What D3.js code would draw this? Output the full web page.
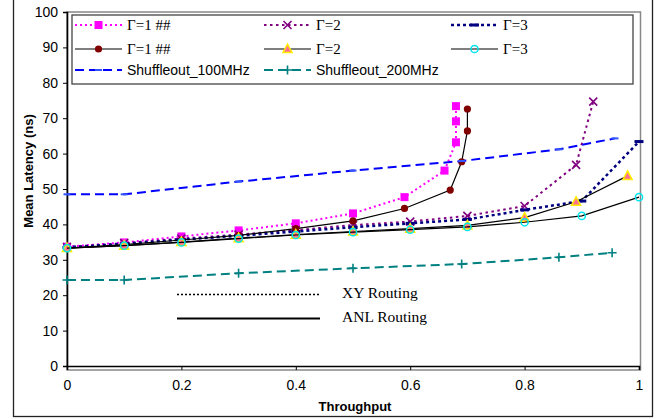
<!DOCTYPE html>
<meta charset="utf-8">
<style>
  body { margin: 0; background: #fff; }
  svg { display: block; }
</style>
<body>
<div id="chart"></div>
<script src="https://d3js.org/d3.v7.min.js"></script>
<script>

// data
var xyG1x  = [0, 0.1, 0.2, 0.3, 0.4, 0.5, 0.59, 0.66, 0.68, 0.68, 0.68];
var xyG1y  = [33.7, 34.9, 36.6, 38.3, 40.3, 43.1, 47.7, 55.2, 63.2, 69.1, 73.4];
var xyG2x  = [0, 0.1, 0.2, 0.3, 0.4, 0.5, 0.6, 0.7, 0.8, 0.89, 0.92];
var xyG2y  = [33.6, 34.7, 36.0, 37.1, 38.4, 39.8, 40.8, 42.4, 45.2, 56.8, 74.7];
var xyG3x  = [0, 0.1, 0.2, 0.3, 0.4, 0.5, 0.6, 0.7, 0.8, 0.9, 1.0];
var xyG3y  = [33.5, 34.5, 35.7, 36.8, 38.0, 39.2, 40.3, 41.4, 44.1, 46.6, 63.4];
var anlG1x = [0, 0.1, 0.2, 0.3, 0.4, 0.5, 0.59, 0.67, 0.69, 0.70, 0.70];
var anlG1y = [33.3, 34.3, 35.6, 36.9, 38.8, 41.0, 44.5, 49.7, 57.7, 66.4, 72.6];
var anlG2x = [0, 0.1, 0.2, 0.3, 0.4, 0.5, 0.6, 0.7, 0.8, 0.89, 0.98];
var anlG2y = [33.3, 34.0, 35.0, 36.1, 37.1, 38.0, 38.8, 39.7, 41.9, 46.4, 53.7];
var anlG3x = [0, 0.1, 0.2, 0.3, 0.4, 0.5, 0.6, 0.7, 0.8, 0.9, 1.0];
var anlG3y = [33.3, 34.0, 34.9, 36.0, 37.0, 37.8, 38.5, 39.3, 40.6, 42.4, 47.7];
var sh100x = [0, 0.1, 0.3, 0.5, 0.69, 0.86, 0.958];
var sh100y = [48.5, 48.5, 52.1, 55.2, 57.9, 61.2, 64.3];
var sh200x = [0, 0.1, 0.3, 0.5, 0.69, 0.86, 0.953];
var sh200y = [24.3, 24.3, 26.2, 27.6, 28.8, 30.7, 32.0];

var xTicks = [0, 0.2, 0.4, 0.6, 0.8, 1];
var yTicks = [0, 10, 20, 30, 40, 50, 60, 70, 80, 90, 100];

var series = [
  {name: "\u0393=1 ##", xs: xyG1x,  ys: xyG1y,  color: "#ff00ff", dash: "2,3",  width: 2,   mark: "square", serif: true},
  {name: "\u0393=2",    xs: xyG2x,  ys: xyG2y,  color: "#800080", dash: "2.5,3.5", width: 2, mark: "times", serif: true},
  {name: "\u0393=3",    xs: xyG3x,  ys: xyG3y,  color: "#000080", dash: "3,3",  width: 2.5, mark: "dash",   serif: true},
  {name: "\u0393=1 ##", xs: anlG1x, ys: anlG1y, color: "#000000", dash: null,   width: 1.2, mark: "dot",    serif: true},
  {name: "\u0393=2",    xs: anlG2x, ys: anlG2y, color: "#000000", dash: null,   width: 1.2, mark: "tri",    serif: true},
  {name: "\u0393=3",    xs: anlG3x, ys: anlG3y, color: "#000000", dash: null,   width: 1.2, mark: "ring",   serif: true},
  {name: "Shuffleout_100MHz", xs: sh100x, ys: sh100y, color: "#0000ff", dash: "9,5", width: 2, mark: "bdash", serif: false},
  {name: "Shuffleout_200MHz", xs: sh200x, ys: sh200y, color: "#008080", dash: "9,5", width: 2, mark: "plus",  serif: false}
];

var W = 666, H = 419;
var svg = d3.select("#chart").append("svg")
  .attr("width", W).attr("height", H);

// outer frame
svg.append("rect")
  .attr("x", 13.5).attr("y", -5).attr("width", 639).attr("height", 421.5)
  .attr("fill", "none").attr("stroke", "#222").attr("stroke-width", 1.3);

var x = d3.scaleLinear().domain([0, 1]).range([67, 639]);
var y = d3.scaleLinear().domain([0, 100]).range([366, 12]);

// plot area border (grey)
svg.append("rect")
  .attr("x", x(0)).attr("y", y(100)).attr("width", 640.5 - x(0)).attr("height", y(0) - y(100) + 4)
  .attr("fill", "none").attr("stroke", "#888").attr("stroke-width", 1.5);

// axes
var yAxis = svg.append("g")
  .attr("transform", "translate(" + x(0) + ",0)")
  .call(d3.axisLeft(y).tickValues(yTicks).tickSize(4).tickPadding(5).tickFormat(d3.format("d")));
var xAxis = svg.append("g")
  .attr("transform", "translate(0," + y(0) + ")")
  .call(d3.axisBottom(x).tickValues(xTicks).tickSize(4).tickPadding(12).tickFormat(function(d){ return d === 0 || d === 1 ? d3.format("d")(d) : d3.format(".1f")(d); }));
[yAxis, xAxis].forEach(function(a) {
  a.selectAll("text").style("font-family", "Liberation Sans, Arial, sans-serif").style("font-size", "14px").attr("fill", "#000");
  a.select(".domain").attr("stroke", "#000").attr("stroke-width", 1.6);
  a.selectAll(".tick line").attr("stroke", "#000");
});
xAxis.selectAll(".tick text").attr("dy", "0.6em");

// axis titles
svg.append("text")
  .attr("transform", "translate(33," + 171 + ") rotate(-90)")
  .attr("text-anchor", "middle")
  .style("font-family", "Liberation Sans, Arial, sans-serif").style("font-weight", "bold").style("font-size", "13px")
  .text("Mean Latency (ns)");
svg.append("text")
  .attr("x", 355).attr("y", 411)
  .attr("text-anchor", "middle")
  .style("font-family", "Liberation Sans, Arial, sans-serif").style("font-weight", "bold").style("font-size", "13px")
  .text("Throughput");

// marker drawing
function drawMark(g, type, color) {
  if (type === "square") {
    g.append("rect").attr("x", -4).attr("y", -4).attr("width", 8).attr("height", 8).attr("fill", "#ff00ff");
  } else if (type === "times") {
    g.append("path").attr("d", "M-4,-4L4,4M-4,4L4,-4").attr("stroke", "#800080").attr("stroke-width", 1.6).attr("fill", "none");
  } else if (type === "dash") {
    g.append("rect").attr("x", -4.5).attr("y", -1.5).attr("width", 9).attr("height", 3).attr("fill", "#000080");
  } else if (type === "dot") {
    g.append("circle").attr("r", 3.6).attr("fill", "#800000");
  } else if (type === "tri") {
    g.append("path").attr("d", "M0,-5L4.5,3.5L-4.5,3.5Z").attr("fill", "#ff7090").attr("stroke", "#ffee00").attr("stroke-width", 1.5);
  } else if (type === "ring") {
    g.append("circle").attr("r", 3.6).attr("fill", "none").attr("stroke", "#00e5ee").attr("stroke-width", 1.5);
  } else if (type === "bdash") {
    g.append("rect").attr("x", -3.5).attr("y", -1).attr("width", 7).attr("height", 2).attr("fill", "#3355ff");
  } else if (type === "plus") {
    g.append("path").attr("d", "M-4.5,0L4.5,0M0,-4.5L0,4.5").attr("stroke", "#008080").attr("stroke-width", 1.6).attr("fill", "none");
  }
}

var line = d3.line().x(function(d){ return x(d[0]); }).y(function(d){ return y(d[1]); });

series.forEach(function(s) {
  var pts = s.xs.map(function(v, i){ return [v, s.ys[i]]; });
  svg.append("path").datum(pts)
    .attr("d", line)
    .attr("fill", "none")
    .attr("stroke", s.color)
    .attr("stroke-width", s.width)
    .attr("stroke-dasharray", s.dash);
  svg.append("g").selectAll("g").data(pts).enter().append("g")
    .attr("transform", function(d){ return "translate(" + x(d[0]) + "," + y(d[1]) + ")"; })
    .each(function(){ drawMark(d3.select(this), s.mark, s.color); });
});

// legend
var leg = svg.append("g");
leg.append("rect").attr("x", 72).attr("y", 15).attr("width", 561).attr("height", 69)
  .attr("fill", "#fff").attr("stroke", "#444").attr("stroke-width", 1.3);
var colX = [75, 264, 451];
var rowY = [25, 49, 70];
series.forEach(function(s, i) {
  var c = i < 6 ? i % 3 : i - 6;
  var r = i < 3 ? 0 : (i < 6 ? 1 : 2);
  var x0 = colX[c], yy = rowY[r];
  var g = leg.append("g");
  g.append("line").attr("x1", x0).attr("x2", x0 + 47).attr("y1", yy).attr("y2", yy)
    .attr("stroke", s.color).attr("stroke-width", s.width)
    .attr("stroke-dasharray", s.dash);
  var m = g.append("g").attr("transform", "translate(" + (x0 + 23.5) + "," + yy + ")");
  drawMark(m, s.mark, s.color);
  g.append("text").attr("x", x0 + 52).attr("y", yy + 5)
    .style("font-family", s.serif ? "Liberation Serif, Times New Roman, serif" : "Liberation Sans, Arial, sans-serif")
    .style("font-size", s.serif ? "15px" : "14px")
    .text(s.name);
});

// routing annotation
var notes = [
  {label: "XY Routing", dash: "2,2", width: 1.5, yy: 294.5},
  {label: "ANL Routing", dash: null, width: 2, yy: 318.5}
];
notes.forEach(function(n) {
  svg.append("line").attr("x1", 177).attr("x2", 320).attr("y1", n.yy).attr("y2", n.yy)
    .attr("stroke", "#000").attr("stroke-width", n.width).attr("stroke-dasharray", n.dash);
  svg.append("text").attr("x", 342).attr("y", n.yy + 3)
    .style("font-family", "Liberation Serif, Times New Roman, serif").style("font-size", "15.5px")
    .text(n.label);
});

</script>
</body>
